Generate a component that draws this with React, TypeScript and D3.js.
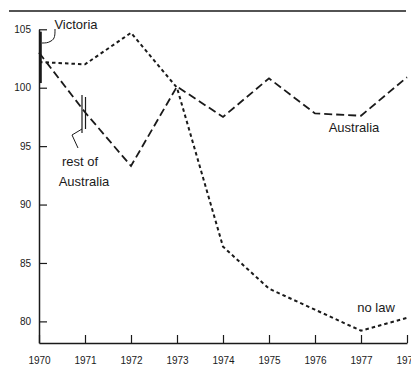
import React, { useEffect, useRef } from "react";
import * as d3 from "d3";

const years = [1970, 1971, 1972, 1973, 1974, 1975, 1976, 1977, 1978];
const australia = [103.0, 97.9, 93.3, 100.1, 97.5, 100.8, 97.8, 97.6, 100.9];
const noLaw = [102.2, 102.0, 104.7, 100.0, 86.4, 82.8, 81.0, 79.2, 80.3];
const victoriaYears = [1970, 1970];
const victoria = [104.8, 100.4];
const yTicks = [80, 85, 90, 95, 100, 105];
const xTicks = [1970, 1971, 1972, 1973, 1974, 1975, 1976, 1977, 1978];

const W = 411;
const H = 365;
const INK = "#1a1a1a";
const FONT = "'Liberation Sans', Arial, Helvetica, sans-serif";

export default function App() {
  const ref = useRef<SVGSVGElement>(null);

  useEffect(() => {
    const svg = d3.select(ref.current);
    svg.selectAll("*").remove();

    const x = d3.scaleLinear().domain([1970, 1978]).range([39, 407]);
    const y = d3.scaleLinear().domain([78.15, 105]).range([343, 29.3]);

    // top rule
    svg.append("line")
      .attr("x1", 9).attr("x2", 406).attr("y1", 11).attr("y2", 11)
      .attr("stroke", INK).attr("stroke-width", 1.5);

    // y axis
    const yAxis = d3.axisLeft(y).tickValues(yTicks).tickSizeInner(-8).tickSizeOuter(0).tickPadding(8)
      .tickFormat(d3.format("d"));
    const gy = svg.append("g").attr("transform", `translate(${x(1970)},0)`).call(yAxis);
    gy.select(".domain").attr("stroke", INK).attr("stroke-width", 1.5);
    gy.selectAll(".tick line").attr("stroke", INK).attr("stroke-width", 1.2);
    gy.selectAll(".tick text").attr("fill", INK).style("font-family", FONT).style("font-size", "10px");

    // x axis
    const xAxis = d3.axisBottom(x).tickValues(xTicks).tickSizeInner(-8).tickSizeOuter(0).tickPadding(14)
      .tickFormat(d3.format("d"));
    const gx = svg.append("g").attr("transform", `translate(0,${y(78.15)})`).call(xAxis);
    gx.select(".domain").attr("stroke", INK).attr("stroke-width", 1.5);
    gx.selectAll(".tick line").attr("stroke", INK).attr("stroke-width", 1.2);
    gx.selectAll(".tick text").attr("fill", INK).style("font-family", FONT).style("font-size", "10px");

    const line = d3.line<[number, number]>().x(d => x(d[0])).y(d => y(d[1]));

    // Australia (long dashes)
    svg.append("path")
      .attr("d", line(years.map((yr, i) => [yr, australia[i]] as [number, number])))
      .attr("fill", "none").attr("stroke", INK).attr("stroke-width", 1.8)
      .attr("stroke-dasharray", "8,4");

    // no law (short dashes)
    svg.append("path")
      .attr("d", line(years.map((yr, i) => [yr, noLaw[i]] as [number, number])))
      .attr("fill", "none").attr("stroke", INK).attr("stroke-width", 2)
      .attr("stroke-dasharray", "3.5,3");

    // Victoria (thick segment at axis)
    svg.append("path")
      .attr("d", line(victoriaYears.map((yr, i) => [yr, victoria[i]] as [number, number])))
      .attr("transform", "translate(1.5,0)")
      .attr("fill", "none").attr("stroke", INK).attr("stroke-width", 2.6);

    // Annotations
    const text = (tx: number, ty: number, s: string) =>
      svg.append("text").attr("x", tx).attr("y", ty).attr("text-anchor", "middle")
        .attr("fill", INK).style("font-family", FONT).style("font-size", "13px").text(s);

    text(76, 28.5, "Victoria");
    svg.append("path")
      .attr("d", "M55,29 C55,35 55,39 51,41 C48,43 45,43 42,43")
      .attr("fill", "none").attr("stroke", INK).attr("stroke-width", 1);

    // rest of Australia marker
    svg.append("line").attr("x1", 82).attr("x2", 82).attr("y1", 95).attr("y2", 133)
      .attr("stroke", INK).attr("stroke-width", 1.2);
    svg.append("line").attr("x1", 85.5).attr("x2", 85.5).attr("y1", 97).attr("y2", 129)
      .attr("stroke", INK).attr("stroke-width", 1.2);
    svg.append("path")
      .attr("d", "M82,129 L72,135 L78,148")
      .attr("fill", "none").attr("stroke", INK).attr("stroke-width", 1);
    text(80, 166, "rest of");
    text(84, 186, "Australia");

    text(354, 131.5, "Australia");
    text(376, 311.5, "no law");
  }, []);

  return (
    <svg ref={ref} width={W} height={H}
      style={{ position: "absolute", left: 0, top: 0, background: "#fff" }} />
  );
}
